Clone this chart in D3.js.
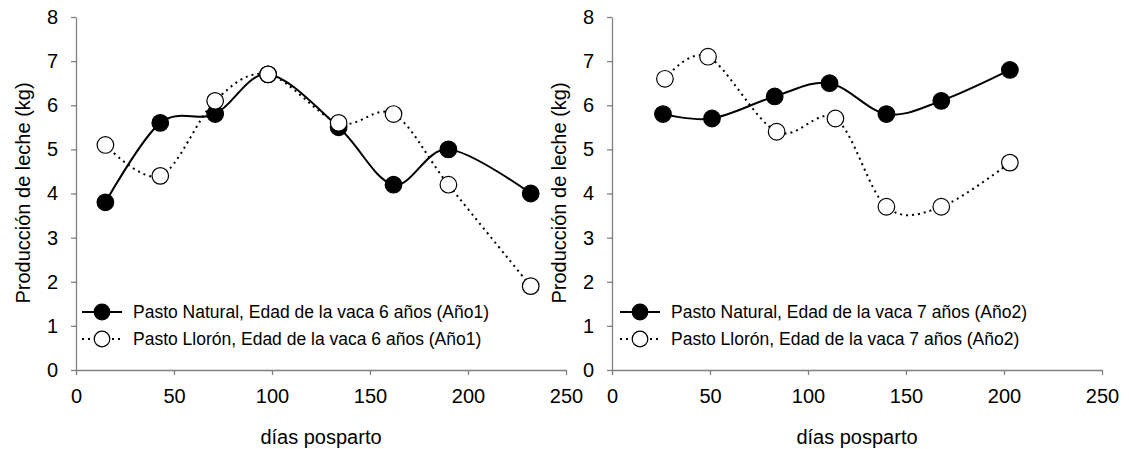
<!DOCTYPE html>
<html>
<head>
<meta charset="utf-8">
<script src="https://cdn.jsdelivr.net/npm/d3@7"></script>
<style>
  html, body { margin: 0; padding: 0; background: #fff; }
  svg { display: block; font-family: "Liberation Sans", Arial, sans-serif; }
</style>
</head>
<body>
<svg id="chart" width="1129" height="449"></svg>
<script>
// ---- data ----
const xTicks = [0, 50, 100, 150, 200, 250];
const yTicks = [0, 1, 2, 3, 4, 5, 6, 7, 8];

const daysNatural1 = [15, 43, 71, 98, 134, 162, 190, 232];
const milkNatural1 = [3.8, 5.6, 5.8, 6.7, 5.5, 4.2, 5.0, 4.0];
const daysLloron1  = [15, 43, 71, 98, 134, 162, 190, 232];
const milkLloron1  = [5.1, 4.4, 6.1, 6.7, 5.6, 5.8, 4.2, 1.9];

const daysNatural2 = [26, 51, 83, 111, 140, 168, 203];
const milkNatural2 = [5.8, 5.7, 6.2, 6.5, 5.8, 6.1, 6.8];
const daysLloron2  = [27, 49, 84, 114, 140, 168, 203];
const milkLloron2  = [6.6, 7.1, 5.4, 5.7, 3.7, 3.7, 4.7];

const legend1 = ["Pasto Natural, Edad de la vaca 6 años (Año1)", "Pasto Llorón, Edad de la vaca 6 años (Año1)"];
const legend2 = ["Pasto Natural, Edad de la vaca 7 años (Año2)", "Pasto Llorón, Edad de la vaca 7 años (Año2)"];
const yLabel = "Producción de leche (kg)";
const xLabel = "días posparto";

// ---- drawing ----
const svg = d3.select("#chart");
const axisColor = "#808080";

function panel(left, natural, lloron, legendTexts, legendX) {
  const x = d3.scaleLinear().domain([0, 250]).range([left, left + 490]);
  const y = d3.scaleLinear().domain([0, 8]).range([370, 17]);
  const g = svg.append("g");

  const xa = g.append("g").attr("transform", "translate(0,370)")
    .call(d3.axisBottom(x).tickValues(xTicks).tickSize(5).tickPadding(14).tickSizeOuter(0));
  const ya = g.append("g").attr("transform", `translate(${left},0)`)
    .call(d3.axisLeft(y).tickValues(yTicks).tickSize(5).tickPadding(13).tickSizeOuter(0));
  [xa, ya].forEach(a => {
    a.select(".domain").attr("stroke", axisColor).attr("stroke-width", 1.3);
    a.selectAll(".tick line").attr("stroke", axisColor).attr("stroke-width", 1.3);
    a.selectAll(".tick text").attr("fill", "#000").style("font-size", "20px")
      .style("font-family", '"Liberation Sans", Arial, sans-serif');
  });

  g.append("text").attr("x", left + 245).attr("y", 444).attr("text-anchor", "middle")
    .style("font-size", "20px").text(xLabel);
  g.append("text").attr("transform", `translate(${left - 53},193) rotate(-90)`)
    .attr("text-anchor", "middle").attr("dominant-baseline", "central")
    .style("font-size", "20px").text(yLabel);

  const line = d3.line().x(d => x(d[0])).y(d => y(d[1])).curve(d3.curveCardinal.tension(0));

  const series = [
    { days: natural[0], vals: natural[1], fill: "#000", dash: null },
    { days: lloron[0], vals: lloron[1], fill: "#fff", dash: "2,4" }
  ];
  series.forEach(s => {
    const pts = s.days.map((d, i) => [d, s.vals[i]]);
    g.append("path").attr("d", line(pts)).attr("fill", "none").attr("stroke", "#000")
      .attr("stroke-width", 2).attr("stroke-dasharray", s.dash);
    g.selectAll(null).data(pts).enter().append("circle")
      .attr("cx", d => x(d[0])).attr("cy", d => y(d[1])).attr("r", 8.3)
      .attr("fill", s.fill).attr("stroke", "#000").attr("stroke-width", 1.2);
  });

  // legend
  const lyPos = [312, 339];
  series.forEach((s, i) => {
    const ly = lyPos[i];
    g.append("line").attr("x1", legendX).attr("x2", legendX + 40).attr("y1", ly).attr("y2", ly)
      .attr("stroke", "#000").attr("stroke-width", 2).attr("stroke-dasharray", s.dash);
    g.append("circle").attr("cx", legendX + 20).attr("cy", ly).attr("r", 7.8)
      .attr("fill", s.fill).attr("stroke", "#000").attr("stroke-width", 1.2);
    g.append("text").attr("x", legendX + 51).attr("y", ly).attr("dominant-baseline", "central")
      .style("font-size", "17.5px").text(legendTexts[i]);
  });
}

panel(76, [daysNatural1, milkNatural1], [daysLloron1, milkLloron1], legend1, 82);
panel(612, [daysNatural2, milkNatural2], [daysLloron2, milkLloron2], legend2, 620);
</script>
</body>
</html>
